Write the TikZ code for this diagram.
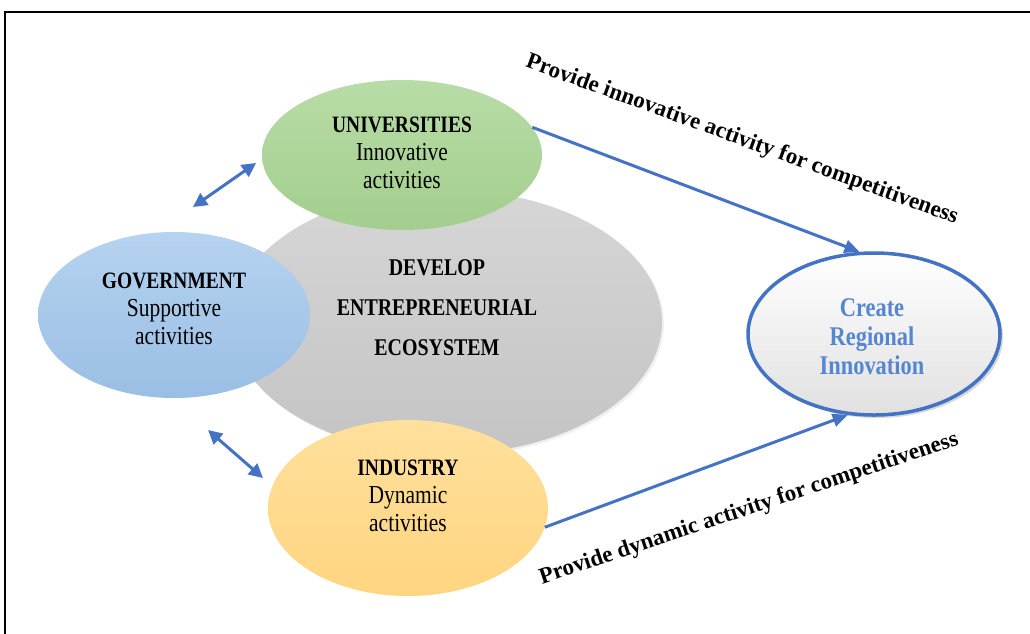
\documentclass[tikz,border=0pt]{standalone}
\usepackage{fontspec}
\setmainfont{Liberation Serif}
\newfontfamily\boxfont{Liberation Serif}[FakeStretch=0.83]
\usepackage{xcolor}
\usetikzlibrary{positioning, shapes.geometric, arrows.meta, shadows}
\definecolor{ecoGreenTop}{RGB}{184, 220, 166}
\definecolor{ecoGreenBot}{RGB}{163, 206, 142}
\definecolor{ecoBlueTop}{RGB}{182, 211, 240}
\definecolor{ecoBlueBot}{RGB}{154, 190, 228}
\definecolor{ecoYellowTop}{RGB}{255, 224, 156}
\definecolor{ecoYellowBot}{RGB}{255, 213, 128}
\definecolor{ecoGrayTop}{RGB}{214, 214, 214}
\definecolor{ecoGrayBot}{RGB}{196, 196, 196}
\definecolor{ecoArrow}{RGB}{68, 114, 196}
\definecolor{ecoTitle}{RGB}{86, 134, 208}
\tikzset{
    base/.style={
        font=\boxfont\fontsize{25.9}{28}\selectfont,
        align=center,
        inner sep=0pt
    },
    actor/.style={
        ellipse,
        inner sep=0pt,
        minimum width=280pt,
        minimum height=150pt
    },
    hub/.style={
        ellipse,
        inner sep=0pt,
        minimum width=430pt,
        minimum height=264pt,
        top color=ecoGrayTop,
        bottom color=ecoGrayBot,
        drop shadow={opacity=0.12, shadow xshift=2pt, shadow yshift=-2pt}
    },
    goal/.style={
        ellipse,
        inner sep=0pt,
        minimum width=252pt,
        minimum height=162pt,
        draw=ecoArrow,
        line width=3.5pt,
        top color=white,
        bottom color=black!12,
        drop shadow={opacity=0.3, shadow xshift=3pt, shadow yshift=-3pt}
    },
    flow/.style={
        -{Triangle[length=15pt, width=13pt]},
        line width=3pt,
        color=ecoArrow
    },
    twoway/.style={
        {Triangle[length=14pt, width=14pt]}-{Triangle[length=14pt, width=14pt]},
        line width=3pt,
        color=ecoArrow
    },
    caption/.style={
        font=\bfseries\fontsize{23}{26}\selectfont,
        inner sep=0pt
    }
}
\newcommand{\actorname}[1]{\textbf{\fontsize{23.5}{28}\selectfont #1}}
\begin{document}
\begin{tikzpicture}[x=1pt, y=-1pt]
  \useasboundingbox (0,0) rectangle (1030,633);
  \draw[line width=2.5pt] (5,645) -- (5,12) -- (1045,12);

  \node[hub] (eco) at (447,322) {};
  \node[actor, top color=ecoGreenTop, bottom color=ecoGreenBot] (univ) at (402,155) {};
  \node[actor, minimum width=272pt, minimum height=166pt, top color=ecoBlueTop, bottom color=ecoBlueBot] (gov) at (174,315) {};
  \node[actor, minimum height=176pt, top color=ecoYellowTop, bottom color=ecoYellowBot] (ind) at (408,508) {};
  \node[goal] (cri) at (874,334) {};

  \node[base, font=\boxfont\bfseries\fontsize{24}{40}\selectfont] (ecotxt) at (437,308) {DEVELOP\\ ENTREPRENEURIAL\\ ECOSYSTEM};
  \node[base] (univtxt) at (402,153) {\actorname{UNIVERSITIES}\\ Innovative\\ activities};
  \node[base] (govtxt) at (174,309) {\actorname{GOVERNMENT}\\ Supportive\\ activities};
  \node[base] (indtxt) at (408,496) {\actorname{INDUSTRY}\\ Dynamic\\ activities};
  \node[base, text=ecoTitle, font=\boxfont\bfseries\fontsize{27}{29}\selectfont] (critxt) at (872,337) {Create\\ Regional\\ Innovation};

  \coordinate (ga) at (193,207);
  \coordinate (ua) at (256,163);
  \coordinate (gb) at (208,430);
  \coordinate (ib) at (263,478);
  \draw[twoway] (ga) -- (ua);
  \draw[twoway] (gb) -- (ib);
  \draw[flow] (univ.12) -- (cri.100);
  \draw[flow] (ind.-8) -- (cri.-108);

  \node[caption, rotate=-20] (uplabel) at (742,140) {Provide innovative activity for competitiveness};
  \node[caption, rotate=18.5] (downlabel) at (749,509) {Provide dynamic activity for competitiveness};
\end{tikzpicture}
\end{document}
